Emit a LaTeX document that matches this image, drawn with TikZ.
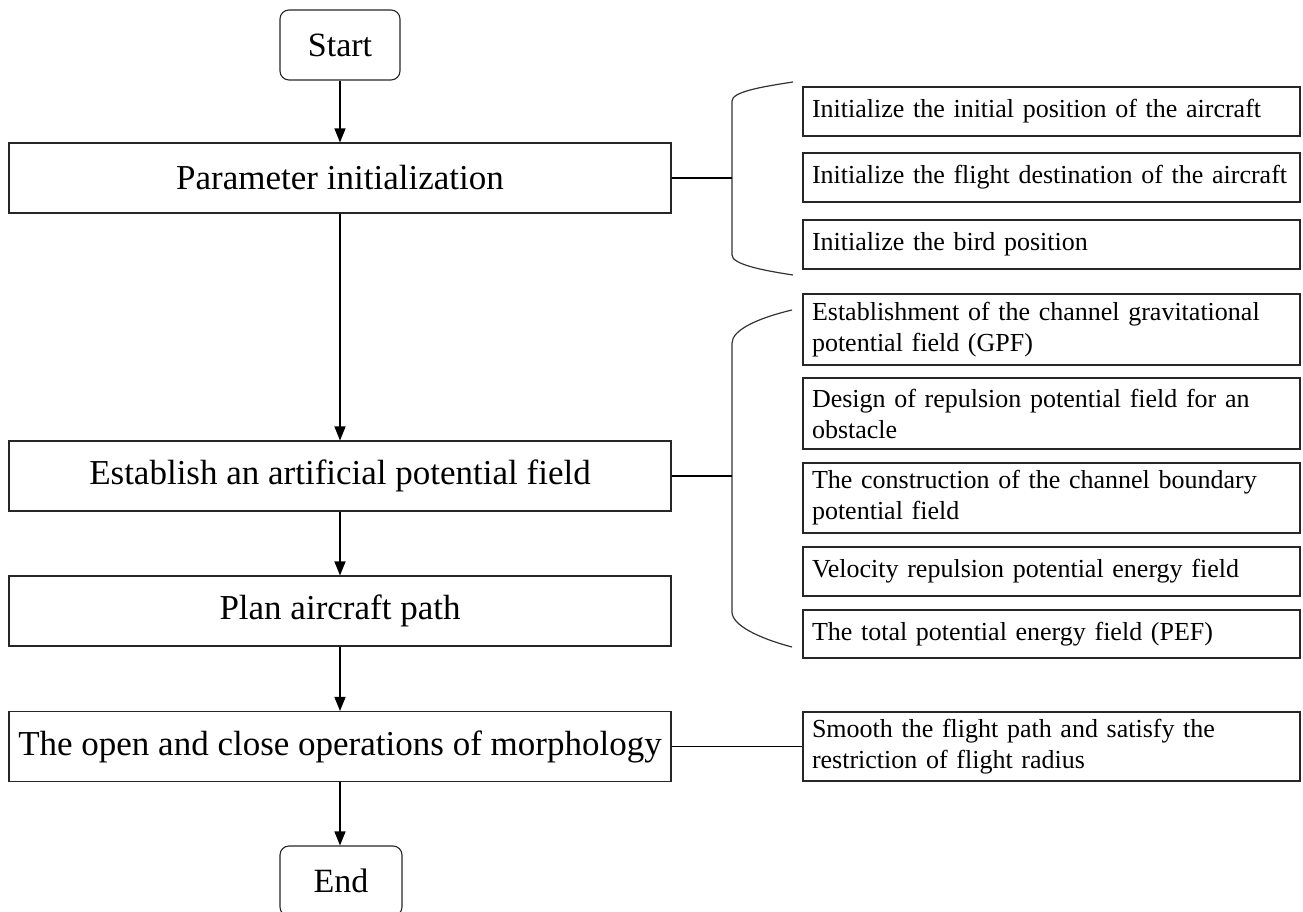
\documentclass[tikz,border=0pt]{standalone}
\usepackage{fontspec}
\setmainfont{Liberation Serif}
\usetikzlibrary{arrows.meta}
\begin{document}
\begin{tikzpicture}[x=1pt,y=-1pt,
  mainbox/.style={draw=black!85,line width=1.1pt,minimum width=662pt,minimum height=70pt,inner sep=0pt,font=\fontsize{35}{40}\selectfont},
  termbox/.style={draw=black!85,line width=1.1pt,rounded corners=9pt,minimum width=120pt,minimum height=70pt,inner sep=0pt,font=\fontsize{34}{40}\selectfont},
  subbox/.style={draw=black!85,line width=1.1pt,minimum width=497pt,inner xsep=9pt,inner ysep=0pt,text width=479pt,align=left,font=\fontsize{26}{31}\selectfont},
  flow/.style={line width=1.5pt,-{Triangle[length=14pt,width=11pt]}},
  link/.style={line width=1.2pt},
  bracepath/.style={line width=1.2pt,black!80}]
\useasboundingbox (0,0) rectangle (1303,912);
% main column
\node[termbox] (start) at (340,45) {Start};
\node[mainbox] (param) at (340,178) {Parameter initialization};
\node[mainbox] (apf) at (340,476) {Establish an artificial potential field};
\node[mainbox] (plan) at (340,611) {Plan aircraft path};
\node[mainbox] (morph) at (340,746.5) {The open and close operations of morphology};
\node[termbox,minimum width=122pt] (end) at (341,881) {End};
\draw[flow] (start) -- (param);
\draw[flow] (param) -- (apf);
\draw[flow] (apf) -- (plan);
\draw[flow] (plan) -- (morph);
\draw[flow] (morph.south) -- (end.north -| morph.south);
% group 1
\node[subbox,minimum height=49pt] (a1) at (1051.5,111.5) {\mbox{Initialize the initial position of the aircraft}};
\node[subbox,minimum height=49pt] (a2) at (1051.5,177.5) {\mbox{Initialize the flight destination of the aircraft}};
\node[subbox,minimum height=49pt] (a3) at (1051.5,244.5) {\mbox{Initialize the bird position}};
\coordinate (h1) at (732,178);
\draw[bracepath] (793,82) .. controls (760,87) and (732,92) .. (732,101) -- (732,255) .. controls (732,264) and (760,270) .. (793,275);
\draw[link] (param.east) -- (h1);
% group 2
\node[subbox,minimum height=71pt] (b1) at (1051.5,329.5) {\mbox{Establishment of the channel gravitational}\\\mbox{potential field (GPF)}};
\node[subbox,minimum height=71pt] (b2) at (1051.5,413.5) {\mbox{Design of repulsion potential field for an}\\\mbox{obstacle}};
\node[subbox,minimum height=70pt] (b3) at (1051.5,498) {\mbox{The construction of the channel boundary}\\\mbox{potential field}};
\node[subbox,minimum height=49pt] (b4) at (1051.5,571.5) {\mbox{Velocity repulsion potential energy field}};
\node[subbox,minimum height=48pt] (b5) at (1051.5,634) {\mbox{The total potential energy field (PEF)}};
\coordinate (h2) at (732,476);
\draw[bracepath] (792,310) .. controls (758,318) and (732,330) .. (732,343) -- (732,612) .. controls (732,625) and (758,638) .. (792,647);
\draw[link] (apf.east) -- (h2);
% morph side
\node[subbox,minimum height=69pt] (c1) at (1051.5,746.5) {\mbox{Smooth the flight path and satisfy the}\\\mbox{restriction of flight radius}};
\draw[link] (morph.east) -- (c1.west);
\end{tikzpicture}
\end{document}
